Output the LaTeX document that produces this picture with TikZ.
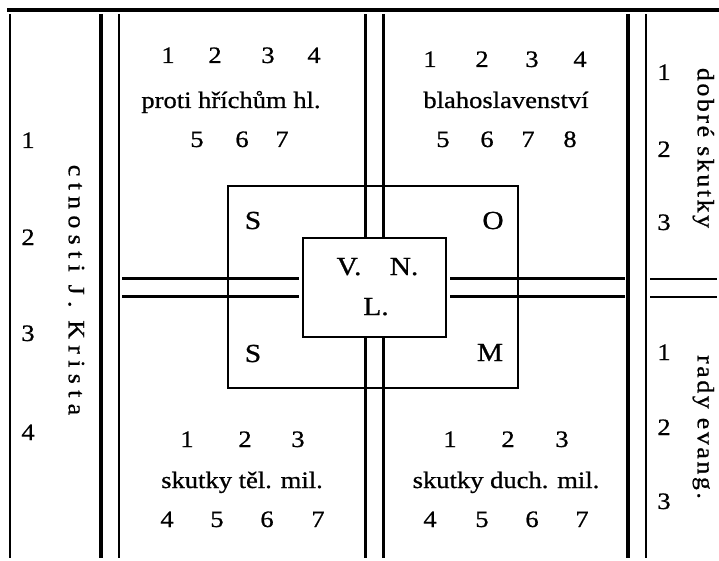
\documentclass[tikz,border=0pt]{standalone}
\usepackage{fontspec}
\setmainfont{Liberation Serif}[FakeStretch=1.13, FakeBold=0.8]
\newfontfamily\spinefont{Liberation Serif}[FakeStretch=1.1, FakeBold=0.8, LetterSpace=27]
\newfontfamily\sidefont{Liberation Serif}[FakeStretch=1.1, FakeBold=0.8, LetterSpace=11]
\usetikzlibrary{positioning, calc}

\tikzset{
  rule/.style={line width=2.2pt},
  heavyrule/.style={line width=3.2pt},
  frame/.style={draw, line width=2.2pt, inner sep=0pt},
  numlbl/.style={font=\fontsize{23.5}{26}\selectfont, anchor=base, inner sep=0pt},
  boxlbl/.style={font=\fontsize{26}{30}\selectfont, anchor=base, inner sep=0pt},
  spine/.style={rotate=-90, anchor=mid, inner sep=0pt, font=\fontsize{23.5}{26}\selectfont},
}

\begin{document}
\begin{tikzpicture}[x=1pt, y=-1pt]
  \useasboundingbox (0,0) rectangle (719,561);
  % top rule and column rules
  \draw[heavyrule] (7,10) -- (719,10);
  \draw[rule] (10,14) -- (10,558);
  \draw[heavyrule] (101,14) -- (101,558);
  \draw[rule] (119,14) -- (119,558);
  \draw[heavyrule] (628,14) -- (628,558);
  \draw[rule] (646,14) -- (646,558);

  % the two boxes in the middle
  \node[frame, minimum width=290pt, minimum height=202pt] (outer) at (373,287) {};
  \node[frame, minimum width=143pt, minimum height=99pt] (inner) at (374.5,287.5) {};

  % double rails from the inner box
  \coordinate (railtop) at (0,14);
  \coordinate (railbot) at (0,558);
  \coordinate (railleft) at (122,0);
  \coordinate (railright) at (625,0);
  \foreach \s in {-9,9} {
    \draw[rule] ([xshift=\s pt]inner.north) -- ([xshift=\s pt]inner.north |- railtop);
    \draw[rule] ([xshift=\s pt]inner.south) -- ([xshift=\s pt]inner.south |- railbot);
    \draw[rule] ([yshift=\s pt, xshift=-3pt]inner.west) -- ([yshift=\s pt]inner.west -| railleft);
    \draw[rule] ([yshift=\s pt, xshift=3pt]inner.east) -- ([yshift=\s pt]inner.east -| railright);
  }
  \draw[rule] (650,279) -- (717,279);
  \draw[rule] (650,297) -- (717,297);

  % letters in the boxes
  \node[boxlbl] (sa) at (253,229) {S};
  \node[boxlbl] (oa) at (493,229) {O};
  \node[boxlbl] (sb) at (253,362) {S};
  \node[boxlbl] (ma) at (490,361) {M};
  \node[boxlbl] (va) at (349,275) {V.};
  \node[boxlbl] (na) at (404,275) {N.};
  \node[boxlbl] (la) at (376,315) {L.};

  % upper left: proti hrichum hl.
  \foreach \n/\x in {1/168,2/215,3/268,4/314}
    \node[numlbl] (pha\n) at (\x,63) {\n};
  \node[numlbl] (pha) at (231,108) {proti hříchům hl.};
  \foreach \n/\x in {5/197,6/242,7/282}
    \node[numlbl] (pha\n) at (\x,147) {\n};

  % upper right: blahoslavenstvi
  \foreach \n/\x in {1/430,2/482,3/532,4/580}
    \node[numlbl] (bla\n) at (\x,67) {\n};
  \node[numlbl] (bla) at (506,108) {blahoslavenství};
  \foreach \n/\x in {5/443,6/487,7/528,8/570}
    \node[numlbl] (bla\n) at (\x,147) {\n};

  % lower left: skutky tel. mil.
  \foreach \n/\x in {1/187,2/245,3/298}
    \node[numlbl] (tel\n) at (\x,447) {\n};
  \node[numlbl] (tel) at (242,488) {skutky těl. mil.};
  \foreach \n/\x in {4/167,5/217,6/267,7/318}
    \node[numlbl] (tel\n) at (\x,527) {\n};

  % lower right: skutky duch. mil.
  \foreach \n/\x in {1/450,2/508,3/562}
    \node[numlbl] (duch\n) at (\x,447) {\n};
  \node[numlbl] (duch) at (506,488) {skutky duch. mil.};
  \foreach \n/\x in {4/430,5/482,6/532,7/582}
    \node[numlbl] (duch\n) at (\x,527) {\n};

  % left column
  \foreach \n/\y in {1/148,2/245,3/341,4/440}
    \node[numlbl] (ctn\n) at (28,\y) {\n};
  \node[spine] (ctn) at (71,290) {\spinefont ctnosti J. Krista};

  % right column
  \foreach \n/\y in {1/80,2/157,3/230}
    \node[numlbl] (dob\n) at (664,\y) {\n};
  \node[spine] (dob) at (700,148) {\sidefont dobré skutky};
  \foreach \n/\y in {1/360,2/435,3/509}
    \node[numlbl] (rad\n) at (664,\y) {\n};
  \node[spine] (rad) at (700,427) {\sidefont rady evang.};
\end{tikzpicture}
\end{document}
